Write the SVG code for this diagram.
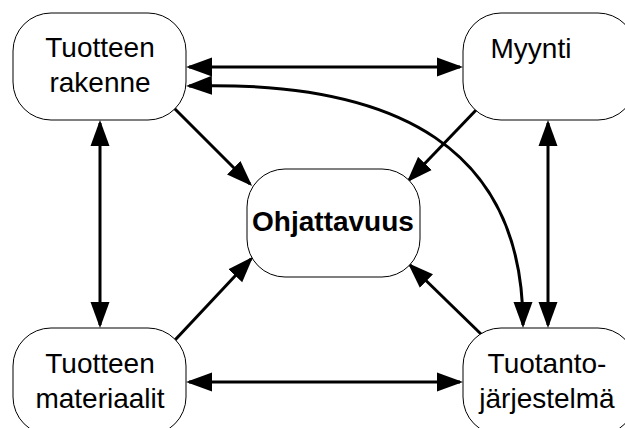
<svg xmlns="http://www.w3.org/2000/svg" width="625" height="428" viewBox="0 0 625 428">
<style>
.box{fill:#fff;stroke:#000;stroke-width:1}
.t{font-family:"Liberation Sans",Arial,sans-serif;font-size:28px;fill:#000;text-anchor:middle}
.b{font-weight:bold}
.c{fill:none;stroke:#000;stroke-width:3}
</style>
<defs>
<marker id="ah" markerUnits="userSpaceOnUse" markerWidth="26" markerHeight="20" refX="23" refY="9.5" orient="auto-start-reverse" viewBox="0 0 26 19">
<path d="M0,0 L26,9.5 L0,19 z" fill="#000"/>
</marker>
</defs>
<rect width="625" height="428" fill="#fff"/>
<g id="connectors">
<line class="c" x1="189" y1="67" x2="460" y2="67" marker-start="url(#ah)" marker-end="url(#ah)"/>
<path class="c" d="M189,86 C400,80 523,150 523,325" marker-start="url(#ah)" marker-end="url(#ah)"/>
<line class="c" x1="173" y1="107" x2="250" y2="184" marker-end="url(#ah)"/>
<line class="c" x1="478" y1="108" x2="409" y2="180" marker-end="url(#ah)"/>
<line class="c" x1="100" y1="123" x2="100" y2="325" marker-start="url(#ah)" marker-end="url(#ah)"/>
<line class="c" x1="548" y1="123" x2="548" y2="325" marker-start="url(#ah)" marker-end="url(#ah)"/>
<line class="c" x1="175" y1="340" x2="251" y2="259" marker-end="url(#ah)"/>
<line class="c" x1="483" y1="336" x2="410" y2="265" marker-end="url(#ah)"/>
<line class="c" x1="189" y1="382" x2="460" y2="382" marker-start="url(#ah)" marker-end="url(#ah)"/>
</g>
<g id="tuotteen-rakenne">
<rect class="box" x="13" y="13" width="173" height="107" rx="38" ry="38"/>
<text class="t" x="100" y="57">Tuotteen</text>
<text class="t" x="100" y="92">rakenne</text>
</g>
<g id="myynti">
<rect class="box" x="463" y="13" width="173" height="107" rx="38" ry="38"/>
<text class="t" x="531" y="58">Myynti</text>
</g>
<g id="ohjattavuus">
<rect class="box" x="247" y="169" width="173" height="108" rx="38" ry="38"/>
<text class="t b" x="333" y="231">Ohjattavuus</text>
</g>
<g id="tuotteen-materiaalit">
<rect class="box" x="13" y="328" width="173" height="107" rx="38" ry="38"/>
<text class="t" x="100" y="373">Tuotteen</text>
<text class="t" x="100" y="408">materiaalit</text>
</g>
<g id="tuotantojarjestelma">
<rect class="box" x="463" y="328" width="173" height="107" rx="38" ry="38"/>
<text class="t" x="547" y="373">Tuotanto-</text>
<text class="t" x="547" y="408">järjestelmä</text>
</g>
</svg>
